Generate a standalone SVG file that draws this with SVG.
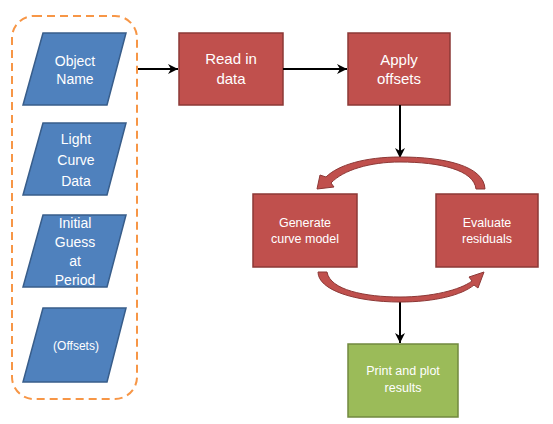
<svg xmlns="http://www.w3.org/2000/svg" width="553" height="424" viewBox="0 0 553 424">
<defs>
<style>
.para{fill:#4F81BD;stroke:#385D8A;stroke-width:1.5}
.red{fill:#C0504D;stroke:#8C3836;stroke-width:1.5}
.green{fill:#9BBB59;stroke:#71893F;stroke-width:1.5}
.t{font-family:"Liberation Sans",Arial,sans-serif;fill:#FFFFFF;text-anchor:middle}
.conn{stroke:#000;stroke-width:2;fill:none}
.arc{fill:#C0504D;stroke:#8C3836;stroke-width:1}
</style>
<marker id="ah" viewBox="0 0 10 10" refX="10" refY="5" markerWidth="5" markerHeight="5" orient="auto" markerUnits="strokeWidth">
<path d="M0,0 L10,5 L0,10 L3,5 Z" fill="#000"/>
</marker>
</defs>
<rect width="553" height="424" fill="#FFFFFF"/>
<g id="inputs">
<rect x="12" y="16" width="125" height="383" rx="22" ry="22" fill="none" stroke="#F79646" stroke-width="2" stroke-dasharray="8,5"/>
</g>
<g id="object-name">
<polygon class="para" points="43,33 126,33 107,105 23,105"/>
<text class="t" font-size="14" x="75" y="66">Object</text>
<text class="t" font-size="14" x="75" y="84">Name</text>
</g>
<g id="light-curve">
<polygon class="para" points="43,123 126,123 107,195 23,195"/>
<text class="t" font-size="14" x="76" y="144">Light</text>
<text class="t" font-size="14" x="76" y="165">Curve</text>
<text class="t" font-size="14" x="76" y="186">Data</text>
</g>
<g id="initial-guess">
<polygon class="para" points="43,215 126,215 107,287 23,287"/>
<text class="t" font-size="14" x="75" y="228">Initial</text>
<text class="t" font-size="14" x="75" y="247">Guess</text>
<text class="t" font-size="14" x="75" y="266">at</text>
<text class="t" font-size="14" x="75" y="285">Period</text>
</g>
<g id="offsets-input">
<polygon class="para" points="43,308 126,308 107,382 23,382"/>
<text class="t" font-size="12" x="76" y="350">(Offsets)</text>
</g>
<g id="read-in">
<rect class="red" x="179" y="33" width="104" height="72"/>
<text class="t" font-size="15" x="231" y="64">Read in</text>
<text class="t" font-size="15" x="231" y="84">data</text>
</g>
<g id="apply-offsets">
<rect class="red" x="348" y="33" width="102" height="72"/>
<text class="t" font-size="15" x="399" y="65">Apply</text>
<text class="t" font-size="15" x="399" y="84">offsets</text>
</g>
<g id="generate">
<rect class="red" x="253" y="194" width="104" height="73"/>
<text class="t" font-size="12.5" x="305" y="227">Generate</text>
<text class="t" font-size="12.5" x="305" y="243">curve model</text>
</g>
<g id="evaluate">
<rect class="red" x="436" y="194" width="102" height="73"/>
<text class="t" font-size="12.5" x="487" y="227">Evaluate</text>
<text class="t" font-size="12.5" x="487" y="243">residuals</text>
</g>
<g id="print">
<rect class="green" x="348" y="344" width="110" height="73"/>
<text class="t" font-size="12.5" x="403" y="375">Print and plot</text>
<text class="t" font-size="12.5" x="403" y="392">results</text>
</g>
<g id="connectors">
<line class="conn" x1="138" y1="69" x2="178" y2="69" marker-end="url(#ah)"/>
<line class="conn" x1="283" y1="69" x2="347" y2="69" marker-end="url(#ah)"/>
<line class="conn" x1="400" y1="105" x2="400" y2="158" marker-end="url(#ah)"/>
<line class="conn" x1="400" y1="301" x2="400" y2="343" marker-end="url(#ah)"/>
<path class="arc" d="M485,189 C484,166 445,157 400,157 C365,157 338,165 326,177 L320,175 L317,189 L334,187 L331,183 C343,170 370,162 400,162 C440,162 474,170 476,189 Z"/>
<path class="arc" d="M318,272 C318,290 355,302 400,302 C435,302 462,295 474,285 L478,288 L484,272 L469,277 L472,281 C460,290 432,297 400,297 C365,297 330,290 327,272 Z"/>
</g>
</svg>
